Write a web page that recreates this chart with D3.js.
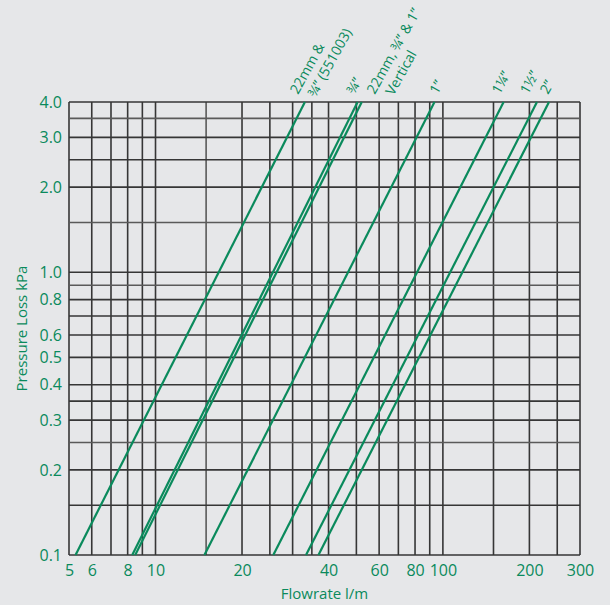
<!DOCTYPE html>
<html>
<head>
<meta charset="utf-8">
<script src="https://cdn.jsdelivr.net/npm/d3@7"></script>
<style>
  body { margin: 0; background: #e6e7e9; }
  svg text { font-family: "Open Sans", "Noto Sans", sans-serif; fill: #0a8a5c; }
</style>
</head>
<body>
<svg id="chart" width="610" height="605"></svg>
<script>
// grid values (l/m and kPa)
const xGrid = [5, 6, 7, 8, 9, 10, 15, 20, 25, 30, 35, 40, 50, 60, 70, 80, 90, 100, 150, 200, 250, 300];
const yGrid = [0.1, 0.15, 0.2, 0.25, 0.3, 0.35, 0.4, 0.5, 0.6, 0.7, 0.8, 0.9, 1, 1.5, 2, 2.5, 3, 3.5, 4];
const xTicks = [5, 6, 8, 10, 20, 40, 60, 80, 100, 200, 300];
const yTicks = [0.1, 0.2, 0.3, 0.4, 0.5, 0.6, 0.8, 1, 2, 3, 4];

// one line per pipe size, read where it crosses 0.1 kPa and 4.0 kPa
const pressureEnds = [0.1, 4.0];
const flowAtLow  = [5.27, 8.3, 8.5, 14.8, 25.7, 33.4, 36.9];
const flowAtHigh = [33.1, 50.5, 52.2, 93.5, 162.7, 212.5, 234];
const labelLines = [
  ["22mm &", "\u00be\u201d (551003)"],
  ["\u00be\u201d"],
  ["22mm, \u00be\u201d & 1\u201d", "Vertical"],
  ["1\u201d"],
  ["1\u00bc\u201d"],
  ["1\u00bd\u201d"],
  ["2\u201d"]
];

const green = '#0a8a5c';
const gridColor = '#363636';
const lightGrid = new Set([3.5, 1.5, 0.9, 0.25, 15]);

const plot = { left: 69, right: 580, top: 102, bottom: 555 };

// where each label starts, relative to the top of its line
const labelDx = [-7, -3, 13, 3, -4, -9, -1];
const labelSecondShift = [6, 0, 8, 0, 0, 0, 0];
const labelAngle = -61;

let xScale = d3.scaleLog([5, 300], [plot.left, plot.right]);
let yScale = d3.scaleLog([0.1, 4], [plot.bottom, plot.top]);

let svg = d3.select('#chart');

// grid
let grid = svg.append('g').attr('class', 'grid');
grid.selectAll('line.v')
    .data(xGrid)
    .join('line')
    .attr('class', 'v')
    .attr('x1', d => xScale(d)).attr('x2', d => xScale(d))
    .attr('y1', plot.top).attr('y2', plot.bottom)
    .attr('stroke', d => lightGrid.has(d) ? '#5a5a5a' : gridColor)
    .attr('stroke-width', 1.6);

grid.selectAll('line.h')
    .data(yGrid)
    .join('line')
    .attr('class', 'h')
    .attr('x1', plot.left).attr('x2', plot.right)
    .attr('y1', d => yScale(d)).attr('y2', d => yScale(d))
    .attr('stroke', d => lightGrid.has(d) ? '#5a5a5a' : gridColor)
    .attr('stroke-width', 1.6);

// pipe lines
let series = flowAtLow.map((f, i) => ({
  name: labelLines[i].join(' '),
  points: [[f, pressureEnds[0]], [flowAtHigh[i], pressureEnds[1]]]
}));

let line = d3.line()
             .x(d => xScale(d[0]))
             .y(d => yScale(d[1]));

svg.append('g')
   .attr('class', 'series')
   .selectAll('path')
   .data(series)
   .join('path')
   .attr('d', d => line(d.points))
   .attr('fill', 'none')
   .attr('stroke', green)
   .attr('stroke-width', 2.2);

// line labels
let labels = svg.append('g')
                .attr('class', 'labels')
                .selectAll('text')
                .data(series)
                .join('text')
                .attr('font-size', 14)
                .attr('transform', (d, i) =>
                  `translate(${xScale(flowAtHigh[i]) + labelDx[i]},95) rotate(${labelAngle})`);

labels.selectAll('tspan')
      .data((d, i) => labelLines[i].map((t, j) => ({ t, j, i })))
      .join('tspan')
      .attr('x', d => d.j ? labelSecondShift[d.i] : 0)
      .attr('dy', d => d.j ? 17 : 0)
      .text(d => d.t);

// axes
let xAxis = d3.axisBottom(xScale)
              .tickValues(xTicks)
              .tickSize(0)
              .tickPadding(10)
              .tickFormat(d3.format('d'));
let yAxis = d3.axisLeft(yScale)
              .tickValues(yTicks)
              .tickSize(0)
              .tickPadding(7)
              .tickFormat(d3.format('.1f'));

let gx = svg.append('g')
            .attr('transform', `translate(0,${plot.bottom})`)
            .call(xAxis);
let gy = svg.append('g')
            .attr('transform', `translate(${plot.left},0)`)
            .call(yAxis);

[gx, gy].forEach(g => {
  g.select('.domain').remove();
  g.selectAll('text')
   .attr('font-size', 16)
   .attr('font-family', '"Open Sans", "Noto Sans", sans-serif')
   .attr('fill', green);
});

// axis titles
svg.append('text')
   .attr('x', (plot.left + plot.right) / 2)
   .attr('y', 599)
   .attr('text-anchor', 'middle')
   .attr('font-size', 15)
   .text('Flowrate l/m');

svg.append('text')
   .attr('transform', `translate(27,${(plot.top + plot.bottom) / 2}) rotate(-90)`)
   .attr('text-anchor', 'middle')
   .attr('font-size', 15)
   .text('Pressure Loss kPa');
</script>
</body>
</html>
